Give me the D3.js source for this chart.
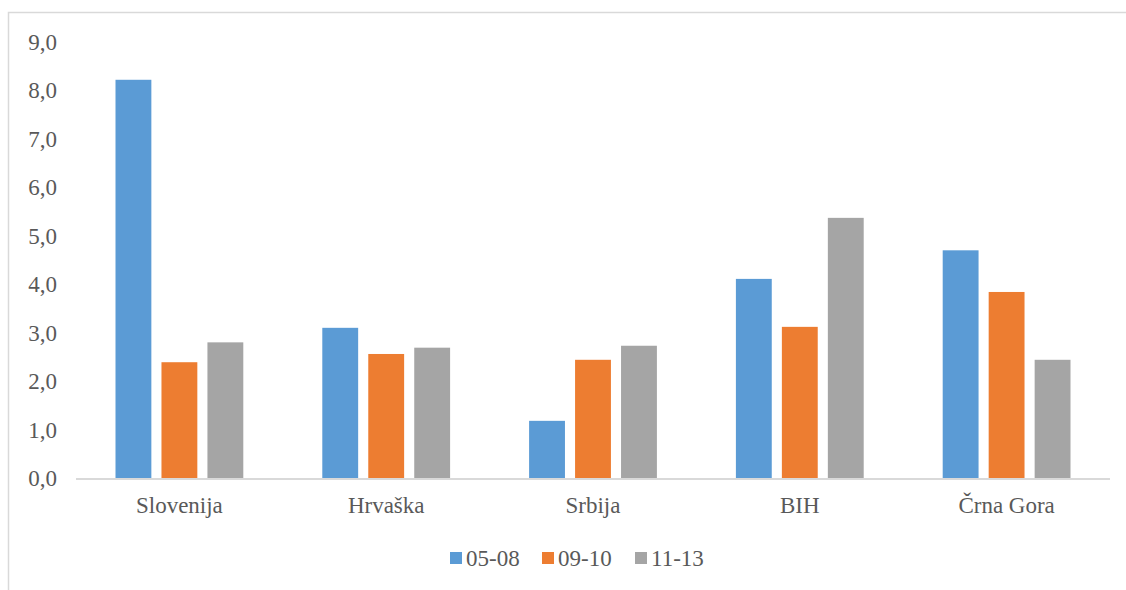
<!DOCTYPE html>
<html>
<head>
<meta charset="utf-8">
<script src="https://cdn.jsdelivr.net/npm/d3@7"></script>
<style>
  body { margin: 0; background: #fff; }
  svg { display: block; }
</style>
</head>
<body>
<svg width="1126" height="590" font-family="serif"></svg>
<script>
const categories = ["Slovenija", "Hrvaška", "Srbija", "BIH", "Črna Gora"];
const seriesNames = ["05-08", "09-10", "11-13"];
const s0508 = [8.22, 3.10, 1.18, 4.11, 4.70];
const s0910 = [2.39, 2.56, 2.44, 3.12, 3.84];
const s1113 = [2.80, 2.69, 2.73, 5.37, 2.44];
const yTicks = [0, 1, 2, 3, 4, 5, 6, 7, 8, 9];
const colors = ["#5b9bd5", "#ed7d31", "#a5a5a5"];

const seriesValues = [s0508, s0910, s1113];

const svg = d3.select("svg");
const width = 1126, height = 590;
const margin = { left: 76, right: 16, top: 42, bottom: 112 };

// chart frame (right and bottom edges fall outside the picture)
svg.append("rect")
    .attr("x", 8.5).attr("y", 12.5)
    .attr("width", 1130).attr("height", 600)
    .attr("fill", "none")
    .attr("stroke", "#d9d9d9")
    .attr("stroke-width", 1.5);

const x = d3.scaleBand()
    .domain(categories)
    .range([margin.left, width - margin.right])
    .paddingInner(0.382)
    .paddingOuter(0.191);

const xs = d3.scaleBand()
    .domain(seriesNames)
    .range([0, x.bandwidth()])
    .paddingInner(0.22);

const y = d3.scaleLinear()
    .domain([0, 9])
    .range([height - margin.bottom, margin.top]);

// bars
const groups = svg.append("g")
    .selectAll("g")
    .data(categories)
    .enter().append("g")
    .attr("transform", d => `translate(${x(d)},0)`);

groups.selectAll("rect")
    .data((c, i) => seriesNames.map((s, j) => ({ s, j, v: seriesValues[j][i] })))
    .enter().append("rect")
    .attr("x", d => xs(d.s))
    .attr("y", d => y(d.v))
    .attr("width", xs.bandwidth())
    .attr("height", d => y(0) - y(d.v))
    .attr("fill", d => colors[d.j]);

// baseline
svg.append("line")
    .attr("x1", margin.left).attr("x2", width - margin.right)
    .attr("y1", y(0) + 1).attr("y2", y(0) + 1)
    .attr("stroke", "#d9d9d9")
    .attr("stroke-width", 2);

// y tick labels
svg.selectAll(".ytick")
    .data(yTicks)
    .enter().append("text")
    .attr("class", "ytick")
    .attr("font-family", "serif")
    .attr("font-size", 23)
    .attr("fill", "#595959")
    .attr("x", 57)
    .attr("y", d => y(d) + 8)
    .attr("text-anchor", "end")
    .text(d => d3.format(".1f")(d).replace(".", ","));

// category labels
svg.selectAll(".xlabel")
    .data(categories)
    .enter().append("text")
    .attr("class", "xlabel")
    .attr("font-family", "serif")
    .attr("font-size", 23)
    .attr("fill", "#595959")
    .attr("x", d => x(d) + x.bandwidth() / 2)
    .attr("y", 513)
    .attr("text-anchor", "middle")
    .text(d => d);

// legend
const legendX = [450, 542, 635];
svg.selectAll(".lkey")
    .data(seriesNames)
    .enter().append("rect")
    .attr("class", "lkey")
    .attr("x", (d, i) => legendX[i])
    .attr("y", 552)
    .attr("width", 12).attr("height", 12)
    .attr("fill", (d, i) => colors[i]);

svg.selectAll(".ltext")
    .data(seriesNames)
    .enter().append("text")
    .attr("class", "ltext")
    .attr("font-family", "serif")
    .attr("font-size", 23)
    .attr("fill", "#595959")
    .attr("x", (d, i) => legendX[i] + 16)
    .attr("y", 566)
    .text(d => d);
</script>
</body>
</html>
